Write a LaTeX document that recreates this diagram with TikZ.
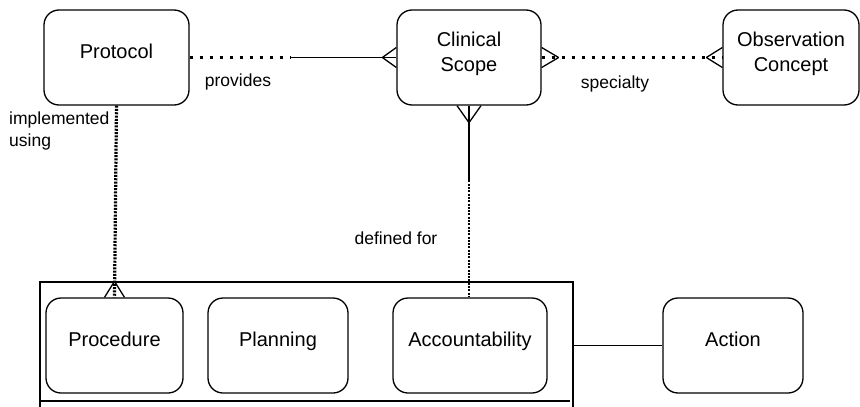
\documentclass[tikz,border=0pt]{standalone}
\usepackage{fontspec}
\setmainfont{Liberation Sans}
\usetikzlibrary{positioning, calc}

\begin{document}
\begin{tikzpicture}[x=1pt, y=-1pt]
    \tikzstyle{box} = [rectangle, draw, line width=1.3pt, rounded corners=15pt, minimum height=95pt, inner sep=0pt, align=center, font=\fontsize{20}{25}\selectfont, text depth=12pt]
    \tikzstyle{lbl} = [inner sep=0pt, font=\fontsize{17.5}{22}\selectfont]
    \tikzstyle{link} = [line width=1.3pt]
    \tikzstyle{dots} = [line width=2.6pt, dash pattern=on 3pt off 7pt]
    \tikzstyle{densedots} = [line width=3.2pt, dash pattern=on 2pt off 1.3pt]
    \useasboundingbox (0,0) rectangle (860,407);

    \node (protocol) [box, minimum width=145pt] at (116.5,57.5) {Protocol};
    \node (scope) [box, minimum width=144pt] at (469,57.5) {Clinical\\Scope};
    \node (concept) [box, minimum width=136pt] at (791,57.5) {Observation\\Concept};
    \node (procedure) [box, minimum width=137pt] at (114.5,345.5) {Procedure};
    \node (planning) [box, minimum width=140pt] at (278,345.5) {Planning};
    \node (accountability) [box, minimum width=154pt] at (470,345.5) {Accountability};
    \node (action) [box, minimum width=140pt] at (733,345.5) {Action};

    \draw [link] (40,412) |- (573,282) -- (573,412);
    \draw [link] (40,401) -- (570,401);
    \coordinate (groupeast) at (573,345.5);
    \draw [link] (groupeast) -- (action);

    \coordinate (providesbreak) at ($(protocol.east)!0.486!(scope.west)$);
    \draw [dots] (protocol.east) -- (providesbreak);
    \draw [link] (providesbreak) -- (scope.west);
    \draw [link] ($(scope.west)+(-14,0)$) -- ($(scope.west)+(0,-10)$) ($(scope.west)+(-14,0)$) -- ($(scope.west)+(0,10)$);
    \node [lbl] at (238,82) {provides};

    \draw [dots] (scope.east) -- (concept.west);
    \draw [link] ($(scope.east)+(17,0)$) -- ($(scope.east)+(0,-10)$) ($(scope.east)+(17,0)$) -- ($(scope.east)+(0,10)$);
    \draw [link] ($(concept.west)+(-16,0)$) -- ($(concept.west)+(0,-10)$) ($(concept.west)+(-16,0)$) -- ($(concept.west)+(0,10)$);
    \node [lbl] at (615,84) {specialty};

    \draw [densedots] (protocol.south) -- (procedure.north);
    \draw [link] ($(procedure.north)+(0,-16)$) -- ($(procedure.north)+(-10,0)$) ($(procedure.north)+(0,-16)$) -- ($(procedure.north)+(10,0)$);
    \node [lbl, align=left, anchor=west] at (9,131) {implemented\\using};

    \coordinate (definedbreak) at ($(scope.south)!0.39!(scope.south |- accountability.north)$);
    \draw [link] (scope.south) -- (definedbreak);
    \draw [densedots, line width=2.4pt] (definedbreak) -- (scope.south |- accountability.north);
    \draw [link] ($(scope.south)+(0,17)$) -- ($(scope.south)+(-12,0)$) ($(scope.south)+(0,17)$) -- ($(scope.south)+(12,0)$);
    \node [lbl] at (396,238) {defined for};
\end{tikzpicture}
\end{document}
